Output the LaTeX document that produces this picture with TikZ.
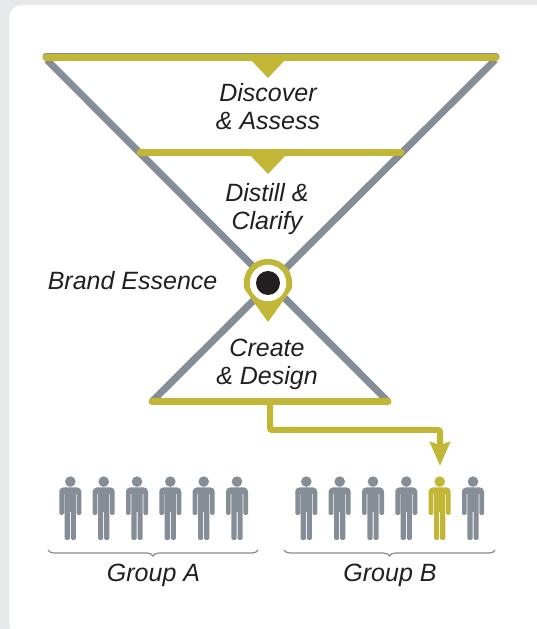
\documentclass[tikz,border=0pt]{standalone}
\usepackage{fontspec}
\setmainfont{Liberation Sans}
\usetikzlibrary{
        arrows.meta,
        decorations.pathreplacing,
        positioning
    }
\definecolor{olivebar}{HTML}{C1B636}
\definecolor{greybar}{HTML}{858E96}
\definecolor{panelbg}{HTML}{E7E8EA}
\definecolor{inkdark}{HTML}{231F20}
\tikzset{
    funnelside/.style={draw=greybar,line width=7pt},
    funnelbar/.style={draw=olivebar,line width=7pt,line cap=round},
    notch/.style={fill=olivebar},
    stage/.style={font=\fontsize{25}{28}\selectfont\itshape,text=inkdark,align=center,inner sep=0pt},
    grouplabel/.style={stage,font=\fontsize{25}{28}\selectfont\itshape},
    groupbrace/.style={draw=greybar,line width=1.2pt,decorate,decoration={brace,mirror,amplitude=6pt}},
    route/.style={draw=olivebar,line width=6pt,rounded corners=2pt},
    person/.pic={
        \fill (0,58.4) circle (5.3);
        \fill[rounded corners=1.5] (-11,25) -- (-11,48) [rounded corners=4] -- (-11,52.5) -- (11,52.5) [rounded corners=1.5] -- (11,25) -- (6.3,25) [sharp corners] -- (6.3,46) -- (5.6,46) [rounded corners=1.5] -- (5.6,0) -- (.5,0) [sharp corners] -- (.5,28) -- (-.5,28) [rounded corners=1.5] -- (-.5,0) -- (-5.6,0) [sharp corners] -- (-5.6,46) -- (-6.3,46) [rounded corners=1.5] -- (-6.3,25) -- cycle;
    }
}
\begin{document}
\begin{tikzpicture}[x=1pt,y=1pt]
    \useasboundingbox (0,0) rectangle (537,629);
    \fill[panelbg] (0,0) rectangle (537,629);
    \begin{scope}
        \clip (0,0) rectangle (537,629);
        \fill[white,rounded corners=13pt] (9,-7) rectangle (560,624);
    \end{scope}
    % funnel
    \coordinate (topL) at (47,569);
    \coordinate (topR) at (495,569);
    \coordinate (lowL) at (152,227.5);
    \coordinate (lowR) at (388,227.5);
    \coordinate (barL) at (46,571.5);
    \coordinate (barR) at (496,571.5);
    \coordinate (midL) at (140,476);
    \coordinate (midR) at (401,476);
    \draw[funnelside] (topL) -- (lowR);
    \draw[funnelside] (topR) -- (lowL);
    \draw[greybar,line width=7pt,line cap=round] (46,572.5) -- (496,572.5);
    \draw[funnelbar] (barL) -- (barR);
    \draw[funnelbar] (midL) -- (midR);
    \draw[funnelbar] (lowL) -- (lowR);
    \fill[notch] (251,569) -- (285,569) -- (268,551) -- cycle;
    \fill[notch] (250,474) -- (286,474) -- (268,455) -- cycle;
    % pin
    \fill[olivebar] (268,307) -- (244.4,340) arc[start angle=194,end angle=-14,radius=24.3] -- cycle;
    \node[circle,fill=white,minimum size=36.5pt,inner sep=0pt] (pinring) at (268,346) {};
    \node[circle,fill=inkdark,minimum size=24pt,inner sep=0pt] (pincore) at (pinring) {};
    % labels
    \node[stage] (discover) at (268,522) {Discover\\\& Assess};
    \node[stage] (distill) at (267,420) {Distill \&\\Clarify};
    \node[stage,left=32pt of pinring.west,yshift=2pt,anchor=east] (essence) {Brand Essence};
    \node[stage] (create) at (267,265) {Create\\\& Design};
    % people
    \foreach \px in {70.3,103.7,137,170.3,203.7,237,306.3,339.7,373,406.3,473}
        \pic[greybar] at (\px,89) {person};
    \pic[olivebar] at (439.7,89) {person};
    % route to the person
    \coordinate (routeM) at (440,199);
    \coordinate (routeE) at (440,163);
    \draw[route,-{Stealth[length=24pt,width=20pt,inset=3pt]}] (270,227.5) |- (routeM) -- (routeE);
    % groups
    \coordinate (braceAL) at (48,79);
    \coordinate (braceAR) at (258,79);
    \coordinate (braceBL) at (284,79);
    \coordinate (braceBR) at (495,79);
    \draw[groupbrace] (braceAL) -- (braceAR);
    \draw[groupbrace] (braceBL) -- (braceBR);
    \node[grouplabel] (groupA) at (153.5,54) {Group A};
    \node[grouplabel] (groupB) at (390,54) {Group B};
\end{tikzpicture}
\end{document}
